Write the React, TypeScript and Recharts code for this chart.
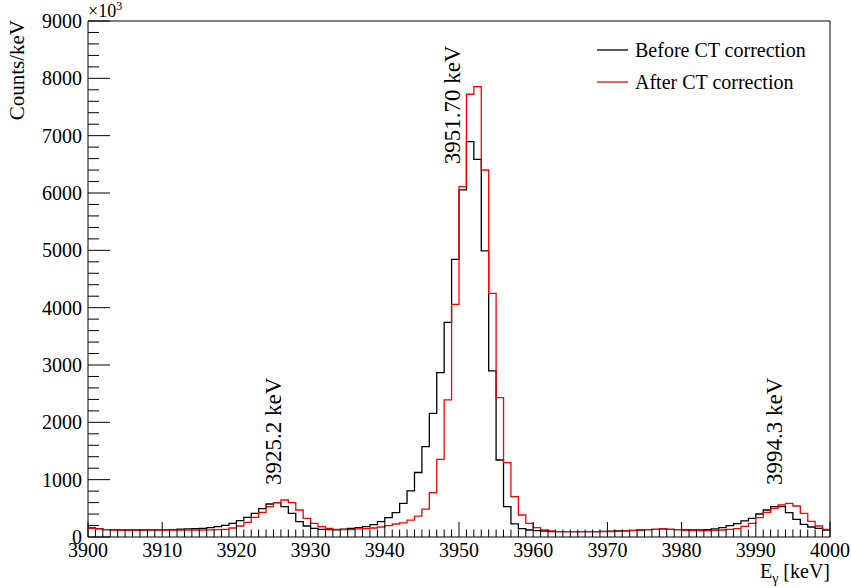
import { LineChart, Line, XAxis, YAxis, ReferenceArea, ReferenceDot, Legend } from "recharts";

// bin low edges, 1 keV bins from 3900 to 4000
const binEdges = Array.from({ length: 101 }, (_, i) => 3900 + i);

// counts/keV (x10^3), before CT correction
const before = [
  160, 145, 130, 125, 122, 122, 122, 122, 125, 125,
  128, 130, 135, 140, 145, 151, 163, 180, 204, 238,
  285, 343, 413, 494, 576, 600, 529, 413, 267, 192,
  151, 134, 128, 125, 135, 150, 163, 180, 215, 267,
  337, 424, 585, 805, 1125, 1575, 2157, 2866, 3744, 4843,
  6053, 6895, 6588, 4989, 2896, 1343, 529, 230, 145, 122,
  110, 105, 95, 93, 93, 93, 93, 93, 95, 99,
  100, 105, 110, 115, 122, 128, 134, 140, 134, 128,
  122, 122, 122, 128, 140, 163, 198, 233, 280, 326,
  401, 471, 529, 529, 424, 308, 221, 174, 151, 122,
];

// after CT correction
const after = [
  150, 140, 128, 122, 122, 122, 122, 122, 122, 122,
  122, 122, 122, 122, 122, 122, 125, 128, 134, 157,
  192, 256, 343, 430, 529, 600, 645, 599, 471, 326,
  238, 180, 151, 134, 128, 128, 140, 145, 157, 174,
  198, 227, 245, 295, 365, 485, 773, 1355, 2390, 4059,
  6111, 7722, 7855, 6401, 4251, 2430, 1296, 703, 384, 238,
  163, 122, 105, 93, 93, 93, 93, 93, 93, 93,
  93, 100, 105, 110, 122, 128, 134, 140, 134, 128,
  116, 110, 110, 110, 116, 122, 134, 145, 186, 238,
  337, 430, 500, 558, 587, 541, 413, 273, 192, 134,
];

const xTicks = binEdges;
const yTicks = Array.from({ length: 46 }, (_, i) => i * 200);

const peaks = [
  { label: "3951.70 keV", x: 3951.7, y: 6500, dx: -12 },
  { label: "3925.2 keV", x: 3925.2, y: 907, dx: 6 },
  { label: "3994.3 keV", x: 3994.3, y: 907, dx: -6 },
];

const FONT = "'Liberation Serif', 'Times New Roman', serif";
const txt = { fontFamily: FONT, fontSize: 20 };

const data = binEdges.map((e, i) => ({
  e,
  before: before[Math.min(i, 99)],
  after: after[Math.min(i, 99)],
}));

function XTick(props: any) {
  const { x, y, payload } = props;
  const v = payload.value;
  const major = v % 10 === 0;
  return (
    <g>
      <line x1={x} x2={x} y1={y} y2={y - (major ? 15 : 7.5)} stroke="#000" strokeWidth={1} />
      {major && (
        <text x={x} y={y + 20} textAnchor="middle" style={txt} fill="#000">
          {v}
        </text>
      )}
    </g>
  );
}

function YTick(props: any) {
  const { x, y, payload } = props;
  const v = payload.value;
  const major = v % 1000 === 0;
  return (
    <g>
      <line x1={x} x2={x + (major ? 22 : 11)} y1={y} y2={y} stroke="#000" strokeWidth={1} />
      {major && (
        <text x={x - 6} y={y + 7} textAnchor="end" style={txt} fill="#000">
          {v}
        </text>
      )}
    </g>
  );
}

function PeakLabel({ cx, cy, text, dx }: any) {
  const px = cx + dx;
  return (
    <text x={px} y={cy} transform={`rotate(-90, ${px}, ${cy})`} style={{ fontFamily: FONT, fontSize: 23 }} fill="#000">
      {text}
    </text>
  );
}

function LegendBox() {
  const rows = [
    { name: "Before CT correction", color: "#000" },
    { name: "After CT correction", color: "#ff0000" },
  ];
  return (
    <div style={{ fontFamily: FONT, fontSize: 20, color: "#000" }}>
      {rows.map((r) => (
        <div key={r.name} style={{ display: "flex", alignItems: "center", height: 32 }}>
          <svg width={38} height={10}>
            <line x1={0} x2={31} y1={5} y2={5} stroke={r.color} strokeWidth={1.3} />
          </svg>
          <span style={{ whiteSpace: "nowrap" }}>{r.name}</span>
        </div>
      ))}
    </div>
  );
}

export default function App() {
  return (
    <div style={{ position: "absolute", left: 0, top: 0, width: 851, height: 588, background: "#fff" }}>
      <LineChart width={851} height={588} data={data} margin={{ top: 21, right: 21, bottom: 0, left: 0 }}>
        <XAxis
          dataKey="e"
          type="number"
          domain={[3900, 4000]}
          ticks={xTicks}
          interval={0}
          height={51}
          tickSize={0}
          tickMargin={0}
          axisLine={false}
          allowDataOverflow
          tick={(p: any) => <XTick {...p} />}
        />
        <YAxis
          type="number"
          domain={[0, 9000]}
          ticks={yTicks}
          interval={0}
          width={88}
          tickSize={0}
          tickMargin={0}
          axisLine={false}
          allowDataOverflow
          tick={(p: any) => <YTick {...p} />}
        />
        <Line dataKey="before" type="stepAfter" stroke="#000" strokeWidth={1.3} dot={false} isAnimationActive={false} />
        <Line dataKey="after" type="stepAfter" stroke="#ff0000" strokeWidth={1.3} dot={false} isAnimationActive={false} />
        <ReferenceArea x1={3900} x2={4000} y1={0} y2={9000} fill="none" stroke="#000" strokeWidth={1} ifOverflow="visible" />
        {peaks.map((p) => (
          <ReferenceDot
            key={p.label}
            x={p.x}
            y={p.y}
            r={0}
            ifOverflow="visible"
            shape={(s: any) => <PeakLabel {...s} text={p.label} dx={p.dx} />}
          />
        ))}
        <Legend
          verticalAlign="middle"
          align="center"
          content={() => <LegendBox />}
          wrapperStyle={{ left: 597, top: 34, width: 230, height: 64 }}
        />
        <text x={24} y={20} transform="rotate(-90, 24, 20)" textAnchor="end" style={{ fontFamily: FONT, fontSize: 21 }} fill="#000">
          Counts/keV
        </text>
        <text x={88} y={17} style={{ fontFamily: FONT, fontSize: 18 }} fill="#000">
          ×10<tspan style={{ fontSize: 12 }} dy={-7}>3</tspan>
        </text>
        <text x={830} y={578} textAnchor="end" style={txt} fill="#000">
          E<tspan style={{ fontSize: 14 }} dy={5}>γ</tspan>
          <tspan dy={-5}> [keV]</tspan>
        </text>
      </LineChart>
    </div>
  );
}
